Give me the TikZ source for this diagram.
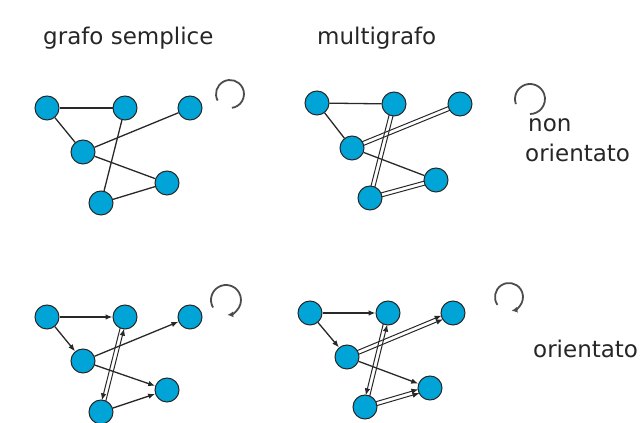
\documentclass[tikz,border=0pt]{standalone}
\usepackage{fontspec}
\setmainfont{DejaVu Sans}
\usetikzlibrary{calc,arrows.meta}
\definecolor{nodeblue}{RGB}{0,164,214}
\definecolor{edgegray}{RGB}{40,40,40}
\newcommand\pline[4][]{\draw[pedge,#1] ($(#2)!#4!90:(#3)$) -- ($(#3)!#4!-90:(#2)$);}
\begin{document}
\begin{tikzpicture}[x=1pt,y=1pt,
  vtx/.style={circle,draw=edgegray,line width=1pt,fill=nodeblue,minimum size=24pt,inner sep=0pt},
  edge/.style={draw=edgegray,line width=1.3pt},
  pedge/.style={draw=edgegray,line width=1pt,shorten <=11.5pt,shorten >=11.5pt},
  arr/.style={-{Latex[length=7pt,width=5.5pt]}},
  loopline/.style={draw=black!70,line width=1.8pt},
  lbl/.style={font=\fontsize{23}{27}\selectfont,text=black!85,inner sep=0pt,anchor=base west}]
\useasboundingbox (0,0) rectangle (641,423);
% ---------- labels ----------
\node[lbl] (t1) at (43,378) {grafo semplice};
\node[lbl] (t2) at (317,378) {multigrafo};
\node[lbl] (t3) at (528,291) {non};
\node[lbl] (t4) at (525,261) {orientato};
\node[lbl] (t5) at (533,65) {orientato};
% ---------- graph 1 ----------
\node[vtx] (g1a) at (47,315) {};
\node[vtx] (g1b) at (125,315) {};
\node[vtx] (g1c) at (190,315) {};
\node[vtx] (g1d) at (83,271) {};
\node[vtx] (g1e) at (167,240) {};
\node[vtx] (g1f) at (101,220) {};
\draw[edge] (g1a) -- (g1b);
\draw[edge] (g1a) -- (g1d);
\draw[edge] (g1d) -- (g1c);
\draw[edge] (g1d) -- (g1e);
\draw[edge] (g1b) -- (g1f);
\draw[edge] (g1f) -- (g1e);
\draw[loopline] (230,329) ++(208:14) arc[start angle=208,end angle=-82,radius=14];
% ---------- graph 2 ----------
\node[vtx] (g2a) at (317,320) {};
\node[vtx] (g2b) at (394,319) {};
\node[vtx] (g2c) at (460,319) {};
\node[vtx] (g2d) at (352,275) {};
\node[vtx] (g2e) at (436,243) {};
\node[vtx] (g2f) at (370,225) {};
\draw[edge] (g2a) -- (g2b);
\draw[edge] (g2a) -- (g2d);
\draw[edge] (g2d) -- (g2e);
\pline{g2d}{g2c}{2pt}
\pline{g2d}{g2c}{-2pt}
\pline{g2b}{g2f}{2pt}
\pline{g2b}{g2f}{-2pt}
\pline{g2f}{g2e}{2pt}
\pline{g2f}{g2e}{-2pt}
\draw[loopline] (530,324) ++(200:15) arc[start angle=200,end angle=-90,radius=15];
% ---------- graph 3 ----------
\node[vtx] (g3a) at (47,106) {};
\node[vtx] (g3b) at (125,106) {};
\node[vtx] (g3c) at (190,106) {};
\node[vtx] (g3d) at (83,62) {};
\node[vtx] (g3e) at (167,33) {};
\node[vtx] (g3f) at (101,11) {};
\draw[edge,arr] (g3a) -- (g3b);
\draw[edge,arr] (g3a) -- (g3d);
\draw[edge,arr] (g3d) -- (g3c);
\draw[edge,arr] (g3d) -- (g3e);
\draw[edge,arr] (g3f) -- (g3e);
\pline[arr]{g3b}{g3f}{-2pt}
\pline[arr]{g3f}{g3b}{-2pt}
\draw[loopline,-{Latex[length=6pt,width=6pt]}] (226,123) ++(210:15) arc[start angle=210,end angle=-85,radius=15];
% ---------- graph 4 ----------
\node[vtx] (g4a) at (310,110) {};
\node[vtx] (g4b) at (388,110) {};
\node[vtx] (g4c) at (453,110) {};
\node[vtx] (g4d) at (347,66) {};
\node[vtx] (g4e) at (430,35) {};
\node[vtx] (g4f) at (365,16) {};
\draw[edge,arr] (g4a) -- (g4b);
\draw[edge,arr] (g4a) -- (g4d);
\draw[edge,arr] (g4d) -- (g4e);
\pline[arr]{g4d}{g4c}{2pt}
\pline[arr]{g4d}{g4c}{-2pt}
\pline[arr]{g4f}{g4e}{2pt}
\pline[arr]{g4f}{g4e}{-2pt}
\pline[arr]{g4b}{g4f}{-2pt}
\pline[arr]{g4f}{g4b}{-2pt}
\draw[loopline,-{Latex[length=6pt,width=6pt]}] (509,126) ++(214:14) arc[start angle=214,end angle=-80,radius=14];
\end{tikzpicture}
\end{document}
